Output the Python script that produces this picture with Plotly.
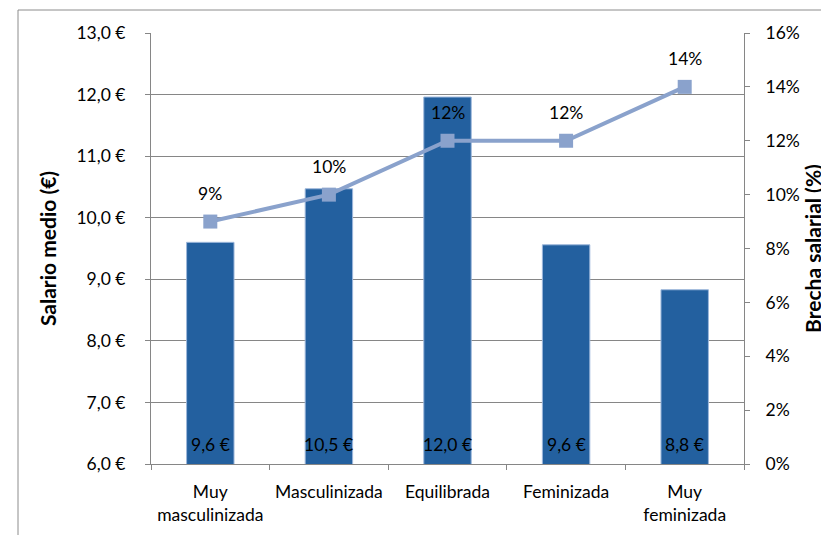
import plotly.graph_objects as go

categories = ["Muy<br>masculinizada", "Masculinizada", "Equilibrada", "Feminizada", "Muy<br>feminizada"]
salario = [9.6, 10.47, 11.96, 9.56, 8.83]
brecha = [0.09, 0.10, 0.12, 0.12, 0.14]
y_min, y_max = 6, 13

FONT = "Lato"
FS = 17.5
fig = go.Figure()
fig.add_trace(go.Bar(
    x=categories, y=salario, width=0.4,
    marker=dict(color="#23609F", line=dict(color="#9DB7DB", width=1)),
    showlegend=False, hoverinfo="y",
))
fig.add_trace(go.Scatter(
    x=categories, y=brecha, yaxis="y2", mode="lines+markers",
    line=dict(color="#8AA2CC", width=4),
    marker=dict(symbol="square", size=14, color="#8AA2CC"),
    showlegend=False,
))
for c, v in zip(categories, salario):
    fig.add_annotation(x=c, y=y_min, text=f"{v:.1f} €".replace(".", ","),
                       showarrow=False, yanchor="middle", yshift=20,
                       font=dict(family=FONT, size=FS, color="black"))
for c, p in zip(categories, brecha):
    fig.add_annotation(x=c, y=p, yref="y2", text=f"{round(p * 100)}%",
                       showarrow=False, yanchor="middle", yshift=28,
                       font=dict(family=FONT, size=FS, color="black"))

W, H = 821, 527
L, T, R, B = 143, 25, 85, 71
pw, ph = W - L - R, H - T - B
fig.update_layout(
    width=W, height=H,
    margin=dict(l=L, r=R, t=T, b=B, autoexpand=False),
    plot_bgcolor="white", paper_bgcolor="white",
    separators=", ",
    font=dict(family=FONT, size=FS, color="black"),
    xaxis=dict(showline=True, linecolor="#868686", ticks="outside", tickson="boundaries",
               ticklen=5, tickcolor="#868686", showgrid=False, ticklabelstandoff=12),
    yaxis=dict(range=[y_min, y_max], dtick=1, tickformat=".1f", ticksuffix=" €",
               showgrid=True, gridcolor="#868686", gridwidth=1,
               showline=True, linecolor="#868686", ticks="outside", ticklen=5, tickcolor="#868686",
               ticklabelstandoff=16,
               title=dict(text="<b>Salario medio (€)</b>", standoff=14), zeroline=False),
    yaxis2=dict(range=[0, 0.16], dtick=0.02, tickformat=".0%", overlaying="y", side="right",
                showgrid=False, showline=True, linecolor="#868686", ticks="outside", ticklen=5,
                tickcolor="#868686", ticklabelstandoff=12,
                title=dict(text="<b>Brecha salarial (%)</b>", standoff=6),
                zeroline=False),
)
fig.add_shape(type="rect", xref="paper", yref="paper",
              x0=(10 - L) / pw, x1=1.5, y0=-0.5, y1=(H - B - 2) / ph,
              line=dict(color="#8C8C8C", width=1), layer="below")
fig.write_html("out.html")
